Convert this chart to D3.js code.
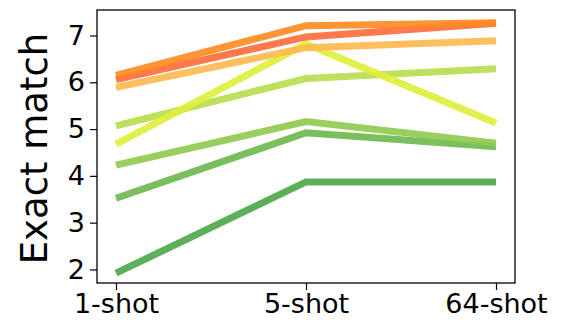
<!DOCTYPE html>
<html>
<head>
<meta charset="utf-8">
<script src="https://cdn.jsdelivr.net/npm/d3@7"></script>
<style>
  html, body { margin: 0; padding: 0; background: #fff; }
  svg { display: block; font-family: "DejaVu Sans", sans-serif; }
</style>
</head>
<body>
<svg id="chart" width="561" height="329"></svg>
<script>
// Shot settings on the x axis
const shots = ["1-shot", "5-shot", "64-shot"];

// Exact-match scores per model, one array per line
const seriesColors = ["#4ca647", "#6bb74b", "#8fca4f", "#b6de4a", "#dfee3a", "#ffb84c", "#ff6a3a", "#ff8a1e"];
const scoreDarkGreen  = [1.92, 3.87, 3.87];
const scoreGreen      = [3.52, 4.92, 4.62];
const scoreLightGreen = [4.23, 5.16, 4.70];
const scoreLime       = [5.07, 6.08, 6.29];
const scoreYellow     = [4.68, 6.82, 5.13];
const scoreGold       = [5.89, 6.74, 6.89];
const scoreTomato     = [6.06, 6.97, 7.26];
const scoreOrange     = [6.15, 7.21, 7.27];
const allScores = [scoreDarkGreen, scoreGreen, scoreLightGreen, scoreLime, scoreYellow, scoreGold, scoreTomato, scoreOrange];

const yTicks = [2, 3, 4, 5, 6, 7];
const yLabel = "Exact match";

const svg = d3.select("#chart");
const margin = { top: 10, right: 46, bottom: 46, left: 97 };
const width = 561 - margin.left - margin.right;
const height = 329 - margin.top - margin.bottom;

const g = svg.append("g").attr("transform", `translate(${margin.left},${margin.top})`);

const x = d3.scalePoint().domain(shots).range([0, width]).padding(0.1);
const y = d3.scaleLinear().domain([1.71, 7.545]).range([height, 0]);

// Lines
const line = d3.line().x((d, i) => x(shots[i])).y(d => y(d));
g.selectAll("path.series")
  .data(allScores)
  .join("path")
  .attr("class", "series")
  .attr("d", d => line(d))
  .attr("fill", "none")
  .attr("stroke", (d, i) => seriesColors[i])
  .attr("stroke-width", 7)
  .attr("stroke-opacity", 0.9)
  .attr("stroke-linejoin", "miter");

// Axes
const xAxis = g.append("g")
  .attr("transform", `translate(0,${height})`)
  .call(d3.axisBottom(x).tickSize(7).tickPadding(4));
const yAxis = g.append("g")
  .call(d3.axisLeft(y).tickValues(yTicks).tickFormat(d3.format("d")).tickSize(7).tickPadding(5));

[xAxis, yAxis].forEach(a => {
  a.select(".domain").remove();
  a.selectAll("line").attr("stroke", "#000").attr("stroke-width", 1.2);
  a.selectAll("text").attr("fill", "#000").style("font-size", "27px").style("font-family", "'DejaVu Sans', sans-serif");
});

// Frame
g.append("rect")
  .attr("x", 0).attr("y", 0)
  .attr("width", width).attr("height", height)
  .attr("fill", "none").attr("stroke", "#000").attr("stroke-width", 1.3);

// Y axis label
svg.append("text")
  .attr("transform", `translate(47,${margin.top + height / 2 + 2}) rotate(-90)`)
  .attr("text-anchor", "middle")
  .style("font-size", "37px")
  .attr("fill", "#000")
  .text(yLabel);
</script>
</body>
</html>
